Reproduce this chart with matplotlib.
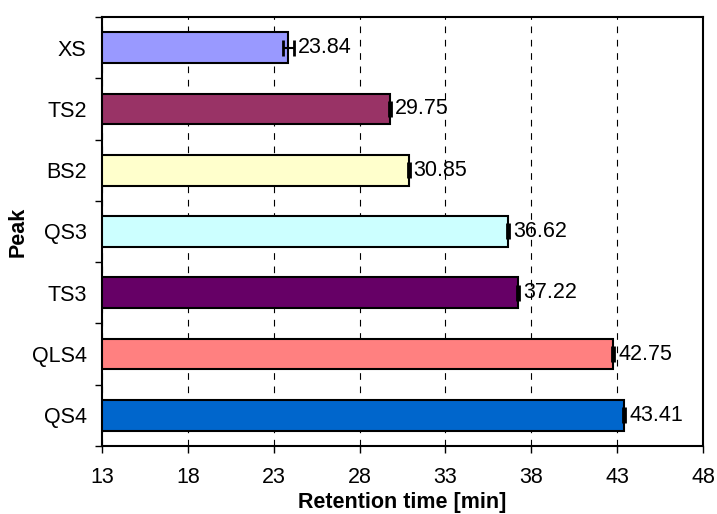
import numpy as np
import matplotlib.pyplot as plt

plt.rcParams['font.family'] = ['Liberation Sans', 'DejaVu Sans']

# data, top to bottom as drawn
peaks = ['XS', 'TS2', 'BS2', 'QS3', 'TS3', 'QLS4', 'QS4']
times = [23.84, 29.75, 30.85, 36.62, 37.22, 42.75, 43.41]
errors = [0.32, 0.06, 0.06, 0.06, 0.06, 0.06, 0.06]
colors = ['#9999FF', '#993366', '#FFFFCC', '#CCFFFF', '#660066', '#FF8080', '#0066CC']

fig = plt.figure(figsize=(7.17, 5.14), dpi=100)
ax = fig.add_axes([0.1423, 0.1323, 0.8382, 0.8347])

y = np.arange(len(peaks))[::-1]
x0 = 13
ax.barh(y, np.array(times) - x0, left=x0, height=0.5, color=colors,
        edgecolor='black', linewidth=1.5, zorder=3)
ax.errorbar(times, y, xerr=errors, fmt='none', ecolor='black',
            elinewidth=1.5, capsize=5.5, capthick=2, zorder=4)

for yi, t, e in zip(y, times, errors):
    ax.annotate('%.2f' % t, (t + e, yi), xytext=(3, 0), textcoords='offset points',
                va='center', ha='left', fontsize=15.5, zorder=5)

ax.set_xlim(13, 48)
ax.set_xticks(np.arange(13, 49, 5))
ax.set_ylim(-0.5, len(peaks) - 0.5)
ax.set_yticks(y)
ax.set_yticklabels(peaks)
ax.set_yticks(np.arange(-0.5, len(peaks), 1), minor=True)
ax.tick_params(axis='y', which='major', length=0, labelsize=15.5, pad=11)
ax.tick_params(axis='y', which='minor', length=5, width=1)
ax.tick_params(axis='x', length=5, width=1, labelsize=15.5, pad=10)

ax.xaxis.grid(True, linestyle=(0, (6, 6)), color='black', linewidth=0.8, zorder=0)
for s in ax.spines.values():
    s.set_linewidth(1.5)

ax.set_xlabel('Retention time [min]', fontsize=15.5, fontweight='bold', labelpad=3)
ax.set_ylabel('Peak', fontsize=15.5, fontweight='bold', labelpad=2)

fig.savefig('out.png', dpi=100)
